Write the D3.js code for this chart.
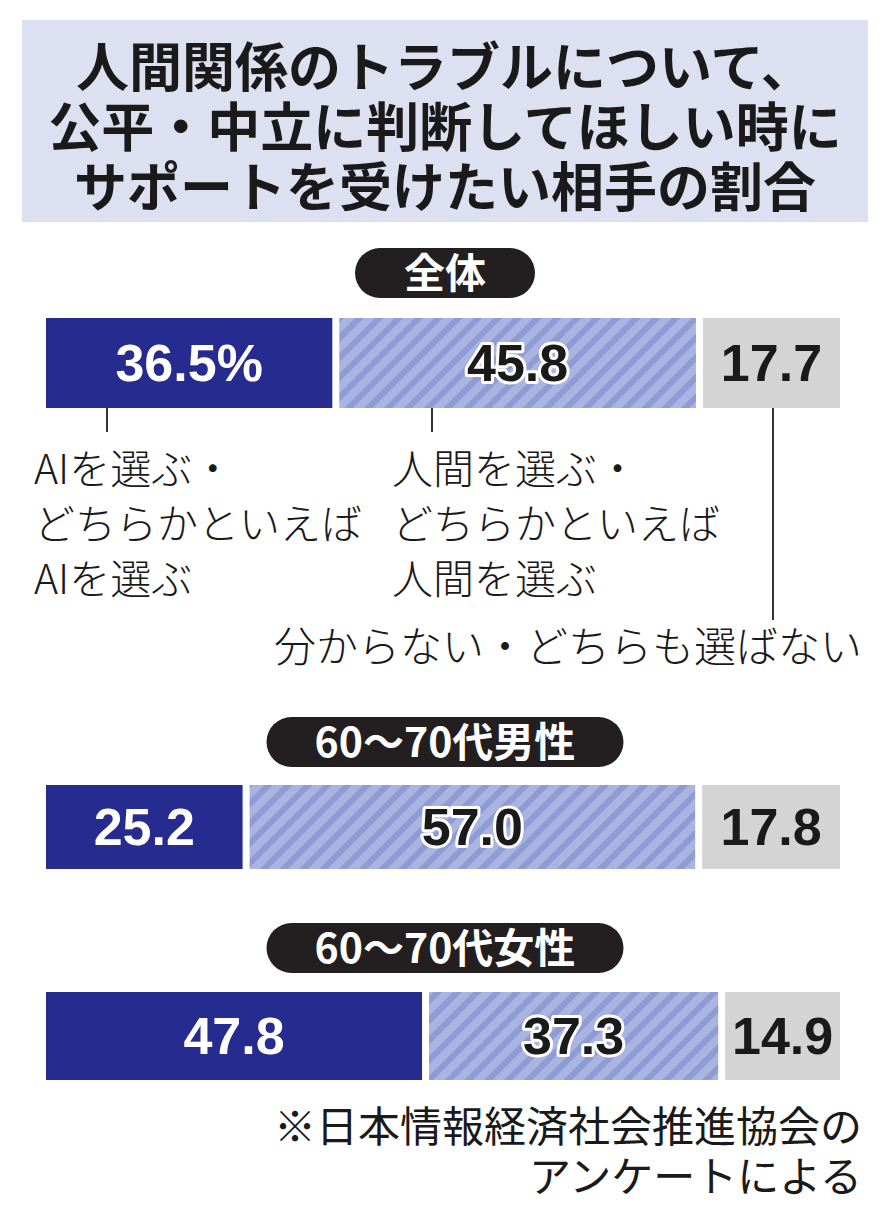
<!DOCTYPE html>
<html><head><meta charset="utf-8">
<script src="https://cdn.jsdelivr.net/npm/d3@7"></script>
<style>body{margin:0;background:#fff}</style>
</head><body>
<script>
const groups = ["全体", "60～70代男性", "60～70代女性"];
const aiValues = [36.5, 25.2, 47.8];
const humanValues = [45.8, 57.0, 37.3];
const unknownValues = [17.7, 17.8, 14.9];
const titleLines = ["人間関係のトラブルについて、", "公平・中立に判断してほしい時に", "サポートを受けたい相手の割合"];

const W = 893, H = 1220;
const font = "'Noto Sans CJK JP', sans-serif";
const svg = d3.select("body").append("svg").attr("width", W).attr("height", H);

const defs = svg.append("defs");
const pat = defs.append("pattern").attr("id", "hatch").attr("patternUnits", "userSpaceOnUse")
  .attr("width", 14).attr("height", 14).attr("patternTransform", "rotate(45)");
pat.append("rect").attr("width", 14).attr("height", 14).attr("fill", "#a9b5e0");
pat.append("rect").attr("width", 6).attr("height", 14).attr("fill", "#8e9bd4");

// title
svg.append("rect").attr("x", 22).attr("y", 20).attr("width", 846).attr("height", 202).attr("fill", "#dde0f1");
svg.selectAll(".title").data(titleLines).join("text")
  .attr("x", 445).attr("y", (d, i) => 87 + i * 60)
  .attr("text-anchor", "middle").attr("font-family", font).attr("font-weight", 700)
  .attr("font-size", 53).attr("fill", "#1a1a1a").text(d => d);

const x = d3.scaleLinear().domain([0, 100]).range([46, 840]);
const gap = 7;
const barY = [318, 785, 992];
const barH = [90, 84, 88];
const pillY = [273, 742, 948];
const pillW = [180, 357, 357];

groups.forEach((g, i) => {
  const p = svg.append("g");
  p.append("rect").attr("x", 445 - pillW[i] / 2).attr("y", pillY[i] - 25).attr("width", pillW[i]).attr("height", 50)
    .attr("rx", 25).attr("fill", "#231f20");
  p.append("text").attr("x", 445).attr("y", pillY[i] + 15).attr("text-anchor", "middle")
    .attr("font-family", font).attr("font-weight", 700).attr("font-size", 41).attr("fill", "#fff").text(g);

  const a = aiValues[i], h = humanValues[i], u = unknownValues[i];
  const segs = [
    {x0: 0, x1: a, fill: "#262b8f", col: "#fff", t: i === 0 ? a.toFixed(1) + "%" : a.toFixed(1), stroke: false},
    {x0: a, x1: a + h, fill: "url(#hatch)", col: "#1a1a1a", t: h.toFixed(1), stroke: true},
    {x0: a + h, x1: 100, fill: "#d4d4d4", col: "#1a1a1a", t: u.toFixed(1), stroke: false}
  ];
  segs.forEach((s, k) => {
    const x0 = x(s.x0) + (k ? gap / 2 : 0), x1 = x(s.x1) - (k < 2 ? gap / 2 : 0);
    svg.append("rect").attr("x", x0).attr("y", barY[i]).attr("width", x1 - x0).attr("height", barH[i]).attr("fill", s.fill);
    const t = svg.append("text").attr("x", (x0 + x1) / 2).attr("y", barY[i] + barH[i] / 2 + 18)
      .attr("text-anchor", "middle").attr("font-family", "'Liberation Sans', Arial, sans-serif")
      .attr("font-weight", 700).attr("font-size", 52).attr("fill", s.col).text(s.t);
    if (s.stroke) t.attr("stroke", "#fff").attr("stroke-width", 6).attr("paint-order", "stroke").attr("stroke-linejoin", "round");
  });
});

// annotations
const leaders = [[107, 432], [432, 432], [773, 620]];
svg.selectAll(".lead").data(leaders).join("line")
  .attr("x1", d => d[0]).attr("x2", d => d[0]).attr("y1", 408).attr("y2", d => d[1])
  .attr("stroke", "#333").attr("stroke-width", 2);
const ann = [
  {x: 34, lines: ["AIを選ぶ・", "どちらかといえば", "AIを選ぶ"]},
  {x: 392, lines: ["人間を選ぶ・", "どちらかといえば", "人間を選ぶ"]}
];
ann.forEach(a => a.lines.forEach((l, j) => svg.append("text").attr("x", a.x).attr("y", 484 + j * 55)
  .attr("font-family", font).attr("font-weight", 300).attr("font-size", 41).attr("fill", "#1a1a1a").text(l)));
svg.append("text").attr("x", 862).attr("y", 662).attr("text-anchor", "end")
  .attr("font-family", font).attr("font-weight", 300).attr("font-size", 42).attr("fill", "#1a1a1a").text("分からない・どちらも選ばない");

["※日本情報経済社会推進協会の", "アンケートによる"].forEach((l, j) => svg.append("text")
  .attr("x", 862).attr("y", 1142 + j * 50).attr("text-anchor", "end")
  .attr("font-family", font).attr("font-weight", 400).attr("font-size", 42).attr("fill", "#1a1a1a").text(l));
</script>
</body></html>
